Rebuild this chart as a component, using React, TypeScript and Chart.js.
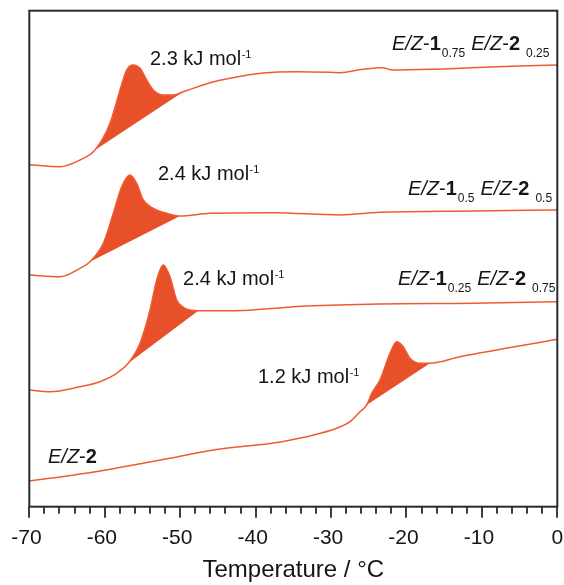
import { useEffect, useRef } from "react";
import { Chart, registerables } from "chart.js";

Chart.register(...registerables);

// ---- data (temperature in °C, heat flow in arbitrary units, traces offset) ----
const temps1 = [-70, -65.93, -63.28, -61.29, -59.3, -57.97, -57.09, -56.21, -55.32, -54.44, -53.56, -52.24, -50.91, -49.58, -47.37, -46.04, -43.39, -39.01, -34.55, -30.13, -28.8, -25.76, -23.28, -21.78, -16.87, -8.03, 0];
const flow1 = [34.2, 34.0, 34.67, 35.67, 38.34, 41.67, 43.67, 44.17, 43.84, 42.67, 41.67, 41.17, 41.17, 41.5, 42.07, 42.4, 42.84, 43.37, 43.5, 43.44, 43.4, 43.74, 43.9, 43.67, 43.74, 44.0, 44.17];
const baseT1 = [-61.29, -49.58];
const baseF1 = [35.67, 41.5];

const temps2 = [-70, -65.93, -63.28, -61.95, -60.19, -58.86, -57.75, -56.65, -55.76, -54.89, -53.56, -51.78, -50.02, -46.04, -37.65, -28.81, -23.51, -11.14, 0];
const flow2 = [23.17, 23.0, 23.84, 24.5, 26.34, 29.34, 32.0, 33.17, 32.34, 30.67, 29.84, 29.34, 29.07, 29.34, 29.4, 29.17, 29.44, 29.57, 29.67];
const baseT2 = [-61.95, -50.02];
const baseF2 = [24.5, 29.07];

const temps3 = [-70, -67.26, -63.28, -60.63, -58.41, -56.88, -55.32, -53.99, -53.11, -52.24, -51.35, -50.46, -49.58, -47.6, -43.39, -33.22, -23.51, -11.18, 0];
const flow3 = [11.67, 11.5, 12.0, 12.5, 13.34, 14.34, 16.34, 19.67, 22.67, 24.17, 23.0, 20.67, 19.94, 19.6, 19.6, 20.07, 20.27, 20.34, 20.5];
const baseT3 = [-56.88, -47.6];
const baseF3 = [14.34, 19.6];

const temps4 = [-70, -67.26, -60.63, -54.93, -51.35, -44.99, -42.07, -36.5, -29.25, -27.48, -26.16, -25.27, -24.61, -23.51, -22.18, -21.29, -20.42, -19.53, -18.2, -16.88, -12.9, 0];
const flow4 = [2.57, 2.84, 3.57, 4.34, 4.84, 5.74, 6.0, 6.5, 7.84, 8.5, 9.5, 10.17, 11.34, 12.67, 15.34, 16.5, 16.0, 14.84, 14.34, 14.34, 15.0, 16.74];
const baseT4 = [-25.27, -16.88];
const baseF4 = [10.17, 14.34];

const majorTicks = [-70, -60, -50, -40, -30, -20, -10, 0];
const minorTicks = [-68, -66, -64, -62, -58, -56, -54, -52, -48, -46, -44, -42, -38, -36, -34, -32, -28, -26, -24, -22, -18, -16, -14, -12, -8, -6, -4, -2];

const enthalpyTexts = ["2.3 kJ mol", "2.4 kJ mol", "2.4 kJ mol", "1.2 kJ mol"];
const enthalpyAt = [[-54.0, 44.17], [-52.94, 32.67], [-49.62, 22.17], [-39.68, 12.37]];
const sampleSubs1 = ["0.75", "0.5", "0.25"];
const sampleSubs2 = ["0.25", "0.5", "0.75"];
const sampleAt = [[-21.93, 45.67], [-19.8, 31.17], [-21.13, 22.17]];
const pureAt = [-67.52, 4.34];

const LINE = "#EF5B31";
const FILL = "#E8502A";
const FONT = '"Liberation Sans", Arial, Helvetica, sans-serif';

type Seg = { t: string; size: number; style?: string; dy?: number; gap?: number };

function drawRich(ctx: CanvasRenderingContext2D, x0: number, y0: number, segs: Seg[]) {
  let x = x0;
  for (const s of segs) {
    x += s.gap ?? 0;
    ctx.font = `${s.style ?? ""} ${s.size}px ${FONT}`;
    ctx.fillText(s.t, x, y0 + (s.dy ?? 0));
    x += ctx.measureText(s.t).width;
  }
}

const toXY = (xs: number[], ys: number[]) => xs.map((x, i) => ({ x, y: ys[i] }));

const decor = {
  id: "decor",
  afterDatasetsDraw(chart: any) {
    const { ctx, chartArea: a, scales } = chart;
    const xs = scales.x;
    const ys = scales.y;
    ctx.save();
    ctx.strokeStyle = "#2b2b2b";
    ctx.lineWidth = 2;
    ctx.strokeRect(a.left, a.top, a.right - a.left, a.bottom - a.top);
    ctx.lineWidth = 1.8;
    for (const v of majorTicks) {
      const px = Math.round(xs.getPixelForValue(v));
      ctx.beginPath();
      ctx.moveTo(px, a.bottom);
      ctx.lineTo(px, a.bottom + 11);
      ctx.stroke();
    }
    for (const v of minorTicks) {
      const px = Math.round(xs.getPixelForValue(v));
      ctx.beginPath();
      ctx.moveTo(px, a.bottom);
      ctx.lineTo(px, a.bottom + 7);
      ctx.stroke();
    }
    ctx.fillStyle = "#151515";
    ctx.textBaseline = "alphabetic";
    ctx.textAlign = "left";
    enthalpyTexts.forEach((t, i) => {
      const [vx, vy] = enthalpyAt[i];
      drawRich(ctx, xs.getPixelForValue(vx), ys.getPixelForValue(vy), [
        { t, size: 20 },
        { t: "-1", size: 11, dy: -7, gap: 0.5 },
      ]);
    });
    sampleAt.forEach(([vx, vy], i) => {
      drawRich(ctx, xs.getPixelForValue(vx), ys.getPixelForValue(vy), [
        { t: "E/Z", size: 20, style: "italic" },
        { t: "-", size: 20 },
        { t: "1", size: 20, style: "bold" },
        { t: sampleSubs1[i], size: 12, dy: 7, gap: 1 },
        { t: "E/Z", size: 20, style: "italic", gap: 6 },
        { t: "-", size: 20 },
        { t: "2", size: 20, style: "bold" },
        { t: sampleSubs2[i], size: 12, dy: 7, gap: 6 },
      ]);
    });
    drawRich(ctx, xs.getPixelForValue(pureAt[0]), ys.getPixelForValue(pureAt[1]), [
      { t: "E/Z", size: 20, style: "italic" },
      { t: "-", size: 20 },
      { t: "2", size: 20, style: "bold" },
    ]);
    ctx.restore();
  },
};

export default function App() {
  const ref = useRef<HTMLCanvasElement | null>(null);
  useEffect(() => {
    if (!ref.current) return;
    const curves = [
      toXY(temps1, flow1),
      toXY(temps2, flow2),
      toXY(temps3, flow3),
      toXY(temps4, flow4),
    ];
    const bases = [
      toXY(baseT1, baseF1),
      toXY(baseT2, baseF2),
      toXY(baseT3, baseF3),
      toXY(baseT4, baseF4),
    ];
    const datasets: any[] = [];
    curves.forEach((d, i) => {
      datasets.push({
        data: d,
        borderColor: LINE,
        borderWidth: 1.5,
        pointRadius: 0,
        cubicInterpolationMode: "monotone",
        fill: { target: 4 + i, above: FILL, below: FILL },
        backgroundColor: FILL,
      });
    });
    bases.forEach((d) => {
      datasets.push({
        data: d,
        borderColor: "rgba(0,0,0,0)",
        borderWidth: 0,
        pointRadius: 0,
        fill: false,
      });
    });
    const chart = new Chart(ref.current, {
      type: "line",
      data: { datasets },
      plugins: [decor],
      options: {
        responsive: false,
        animation: false,
        devicePixelRatio: 1,
        layout: { padding: { left: 29.3, right: 6.7, top: 10.7, bottom: 0 } },
        plugins: { legend: { display: false }, tooltip: { enabled: false } },
        scales: {
          x: {
            type: "linear",
            min: -70,
            max: 0,
            offset: false,
            border: { display: false },
            grid: { display: false, drawTicks: false },
            afterBuildTicks: (s: any) => {
              s.ticks = majorTicks.map((v) => ({ value: v }));
            },
            afterFit: (s: any) => {
              s.height = 78.3;
              s.paddingLeft = 0;
              s.paddingRight = 0;
            },
            ticks: {
              padding: 19,
              color: "#151515",
              font: { family: FONT, size: 21 },
              maxRotation: 0,
              autoSkip: false,
              callback: (v: any) => (Number(v) < 0 ? `${v}\u00A0` : `${v}`),
            },
            title: {
              display: true,
              text: "Temperature / °C",
              color: "#151515",
              font: { family: FONT, size: 24 },
              padding: { top: 0, bottom: 0 },
            },
          },
          y: {
            type: "linear",
            display: false,
            min: 0,
            max: 49.6,
          },
        },
      },
    });
    return () => chart.destroy();
  }, []);
  return (
    <div style={{ position: "fixed", left: 0, top: 0, width: 564, height: 585, background: "#fff" }}>
      <canvas ref={ref} width={564} height={585} style={{ display: "block" }} />
    </div>
  );
}
